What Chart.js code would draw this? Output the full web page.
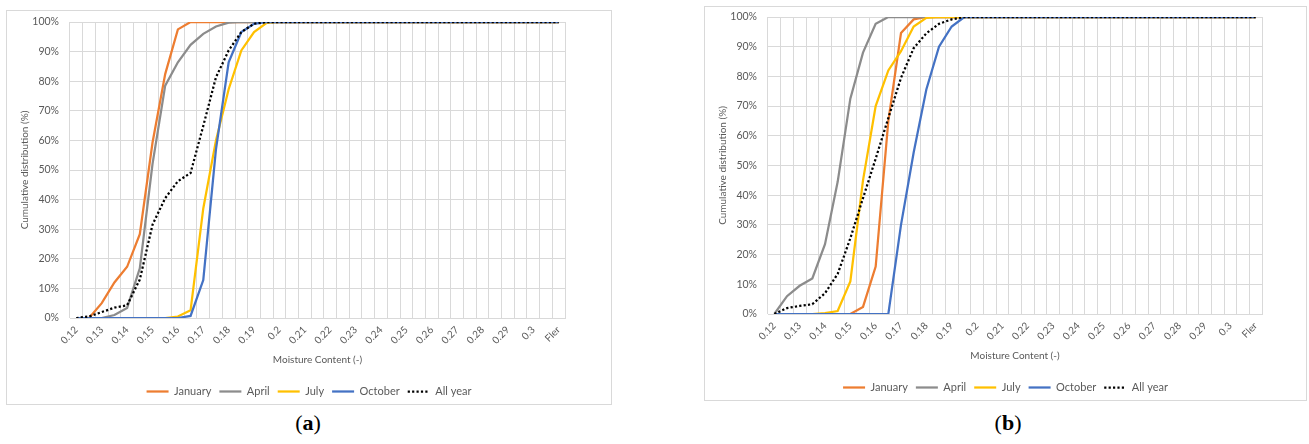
<!DOCTYPE html>
<html>
<head>
<meta charset="utf-8">
<script src="https://cdn.jsdelivr.net/npm/chart.js@4.4.1/dist/chart.umd.min.js"></script>
<style>
  body { margin: 0; background: #fff; width: 1309px; height: 444px; position: relative; overflow: hidden; }
  .box { position: absolute; border: 1px solid #d9d9d9; background: #fff; }
  .tag { position: absolute; width: 100px; text-align: center; font-family: "Liberation Serif", serif; font-size: 22px; color: #000; }
</style>
</head>
<body>
<div class="box" style="left:6px; top:10px; width:604px; height:393px;"><canvas id="chartA"></canvas></div>
<div class="box" style="left:704px; top:6px; width:601px; height:393px;"><canvas id="chartB"></canvas></div>
<div class="tag" style="left:258px; top:410px;">(<b>a</b>)</div>
<div class="tag" style="left:958px; top:410px;">(<b>b</b>)</div>
<script>
// Catégories (teneur en eau), une étiquette sur deux affichée
const categories = ['0.12', '0.125', '0.13', '0.135', '0.14', '0.145', '0.15', '0.155', '0.16', '0.165',
  '0.17', '0.175', '0.18', '0.185', '0.19', '0.195', '0.2', '0.205', '0.21', '0.215',
  '0.22', '0.225', '0.23', '0.235', '0.24', '0.245', '0.25', '0.255', '0.26', '0.265',
  '0.27', '0.275', '0.28', '0.285', '0.29', '0.295', '0.3', '0.305', 'Fler'];

const seriesNames = ['January', 'April', 'July', 'October', 'All year'];
const yTicks = [0, 10, 20, 30, 40, 50, 60, 70, 80, 90, 100];

// (a)
const janA = [0, 0, 5, 12, 17.3, 28.3, 59.2, 82.4, 97.5, 100,
  100, 100, 100, 100, 100, 100, 100, 100, 100, 100,
  100, 100, 100, 100, 100, 100, 100, 100, 100, 100,
  100, 100, 100, 100, 100, 100, 100, 100, 100];
const aprA = [0, 0, 0, 1, 3.4, 16.8, 52, 78.5, 86.4, 92.3,
  96, 98.5, 99.8, 100, 100, 100, 100, 100, 100, 100,
  100, 100, 100, 100, 100, 100, 100, 100, 100, 100,
  100, 100, 100, 100, 100, 100, 100, 100, 100];
const julA = [0, 0, 0, 0, 0, 0, 0, 0, 0.5, 2.6,
  37, 60, 77.3, 90.4, 96.6, 99.7, 100, 100, 100, 100,
  100, 100, 100, 100, 100, 100, 100, 100, 100, 100,
  100, 100, 100, 100, 100, 100, 100, 100, 100];
const octA = [0, 0, 0, 0, 0, 0, 0, 0, 0, 0.7,
  12.8, 57, 86.4, 96.6, 99.4, 100, 100, 100, 100, 100,
  100, 100, 100, 100, 100, 100, 100, 100, 100, 100,
  100, 100, 100, 100, 100, 100, 100, 100, 100];
const allA = [0, 0.5, 2, 3.5, 4.3, 13, 31.5, 40.5, 46.2, 49,
  64.9, 81.3, 90.4, 96.6, 99.4, 100, 100, 100, 100, 100,
  100, 100, 100, 100, 100, 100, 100, 100, 100, 100,
  100, 100, 100, 100, 100, 100, 100, 100, 100];

// (b)
const janB = [0, 0, 0, 0, 0, 0, 0, 2.4, 16, 65,
  94.6, 99.2, 100, 100, 100, 100, 100, 100, 100, 100,
  100, 100, 100, 100, 100, 100, 100, 100, 100, 100,
  100, 100, 100, 100, 100, 100, 100, 100, 100];
const aprB = [0, 6, 9.5, 12, 23.5, 44.5, 72.5, 88, 97.7, 100,
  100, 100, 100, 100, 100, 100, 100, 100, 100, 100,
  100, 100, 100, 100, 100, 100, 100, 100, 100, 100,
  100, 100, 100, 100, 100, 100, 100, 100, 100];
const julB = [0, 0, 0, 0, 0.3, 1, 11, 45, 70, 82,
  88.5, 96.8, 99.7, 100, 100, 100, 100, 100, 100, 100,
  100, 100, 100, 100, 100, 100, 100, 100, 100, 100,
  100, 100, 100, 100, 100, 100, 100, 100, 100];
const octB = [0, 0, 0, 0, 0, 0, 0, 0, 0, 0,
  30, 54.4, 75.6, 90, 96.8, 100, 100, 100, 100, 100,
  100, 100, 100, 100, 100, 100, 100, 100, 100, 100,
  100, 100, 100, 100, 100, 100, 100, 100, 100];
const allB = [0, 2, 2.7, 3.3, 7, 13.5, 25.5, 39, 52.3, 66,
  79.5, 89.5, 94.5, 97.7, 99.2, 100, 100, 100, 100, 100,
  100, 100, 100, 100, 100, 100, 100, 100, 100, 100,
  100, 100, 100, 100, 100, 100, 100, 100, 100];

const colors = ['#ED7D31', '#8C8C8C', '#FFC000', '#4472C4', '#000000'];
const dotDash = [2.2, 2.2];
const textColor = '#595959';
const gridColor = '#d9d9d9';
const fontFamily = 'Lato, "Liberation Sans", sans-serif';

function makeChart(id, series, topPad, rightGap) {
  const ctx = document.getElementById(id).getContext('2d');
  return new Chart(ctx, {
    type: 'line',
    data: {
      labels: categories,
      datasets: series.map((data, i) => ({
        label: seriesNames[i],
        data: data,
        borderColor: colors[i],
        backgroundColor: colors[i],
        borderWidth: 2.25,
        borderDash: i === 4 ? dotDash : [],
        pointRadius: 0,
        tension: 0,
        fill: false,
        order: 4 - i
      }))
    },
    options: {
      responsive: true,
      maintainAspectRatio: false,
      animation: false,
      layout: { padding: { top: topPad, right: 0, bottom: -3, left: 0 } },
      plugins: {
        tooltip: { enabled: false },
        legend: {
          display: true,
          position: 'bottom',
          labels: {
            usePointStyle: true,
            pointStyle: 'line',
            pointStyleWidth: 22,
            padding: 8,
            color: textColor,
            font: { family: fontFamily, size: 11 },
            sort: (a, b) => a.datasetIndex - b.datasetIndex,
            generateLabels: chart => {
              const items = Chart.defaults.plugins.legend.labels.generateLabels(chart);
              items.forEach(item => {
                const ds = chart.data.datasets[item.datasetIndex];
                item.lineDash = ds.borderDash;
                item.lineWidth = ds.borderWidth;
                item.strokeStyle = ds.borderColor;
              });
              return items;
            }
          }
        }
      },
      scales: {
        x: {
          offset: true,
          grid: { color: gridColor, offset: true, drawTicks: false },
          border: { color: gridColor },
          ticks: {
            autoSkip: false,
            minRotation: 45,
            maxRotation: 45,
            padding: 6,
            color: textColor,
            font: { family: fontFamily, size: 10 },
            callback: function (value, index) {
              return index % 2 === 0 ? this.getLabelForValue(value) : '';
            }
          },
          title: {
            display: true,
            text: 'Moisture Content (-)',
            color: textColor,
            font: { family: fontFamily, size: 10 },
            padding: { top: 0, bottom: 12 }
          },
          afterFit: scale => { scale.height = 60; }
        },
        y: {
          min: 0,
          max: 100,
          afterBuildTicks: scale => { scale.ticks = yTicks.map(v => ({ value: v })); },
          grid: { color: gridColor, drawTicks: false },
          border: { display: false },
          ticks: {
            padding: 11,
            color: textColor,
            font: { family: fontFamily, size: 10.5 },
            callback: v => v + '%'
          },
          title: {
            display: true,
            text: 'Cumulative distribution (%)',
            color: textColor,
            font: { family: fontFamily, size: 10 },
            padding: { top: 12, bottom: 0 }
          },
          afterFit: scale => {
            scale.width = 63;
            scale.paddingTop = 0;
            scale.paddingBottom = 0;
          }
        },
        // marge droite vide (garde la légende centrée sur tout le cadre)
        gap: {
          position: 'right',
          grid: { display: false, drawTicks: false },
          border: { display: false },
          ticks: { display: false },
          afterFit: scale => {
            scale.width = rightGap;
            scale.paddingTop = 0;
            scale.paddingBottom = 0;
          }
        }
      }
    }
  });
}

const chartA = makeChart('chartA', [janA, aprA, julA, octA, allA], 11, 46);
const chartB = makeChart('chartB', [janB, aprB, julB, octB, allB], 10, 44);
</script>
</body>
</html>
